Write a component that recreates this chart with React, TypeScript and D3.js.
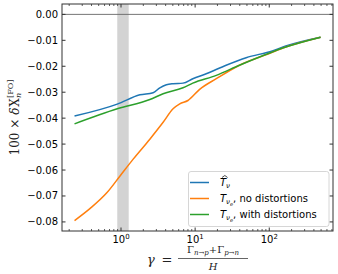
import * as d3 from "d3";

// blue: \hat T_nu
const gammaBlue = [0.236, 0.89, 1.8, 2.71, 3.34, 4.1, 5.04, 6.86, 9.3, 14.1, 26.2, 48.8, 110, 167, 492];
const valBlue = [-0.0392, -0.0346, -0.031, -0.0302, -0.0283, -0.0271, -0.0267, -0.0265, -0.0248, -0.0229, -0.0196, -0.0167, -0.0141, -0.0122, -0.0088];

// orange: T_nu_e, no distortions
const gammaOrange = [0.236, 0.384, 0.643, 0.97, 1.46, 2.45, 3.7, 5.04, 6.2, 8.0, 11.5, 19.3, 39.6, 100, 167, 492];
const valOrange = [-0.0795, -0.0748, -0.0688, -0.0623, -0.0558, -0.0481, -0.0416, -0.0364, -0.0345, -0.0332, -0.0289, -0.0248, -0.0196, -0.0151, -0.0126, -0.0088];

// green: T_nu_e, with distortions
const gammaGreen = [0.236, 0.89, 2.45, 3.7, 6.86, 9.3, 19.3, 39.6, 110, 167, 492];
const valGreen = [-0.0422, -0.0364, -0.0328, -0.0306, -0.0283, -0.0265, -0.0235, -0.0196, -0.0145, -0.0126, -0.0088];

const yTicks = [0, -0.01, -0.02, -0.03, -0.04, -0.05, -0.06, -0.07, -0.08];
const xMajor = [1, 10, 100];
const band = [0.89, 1.27];

const colors = ["#1f77b4", "#ff7f0e", "#2ca02c"];

const App = () => {
  const W = 338;
  const H = 274;
  const left = 62;
  const right = 333;
  const top = 4;
  const bottom = 231;

  const x = d3.scaleLog().domain([0.16, 724]).range([left, right]);
  const y = d3.scaleLinear().domain([0.004, -0.0835]).range([top, bottom]);

  const line = d3
    .line<[number, number]>()
    .x((d) => x(d[0]))
    .y((d) => y(d[1]))
    .curve(d3.curveMonotoneX);

  const series = [
    gammaBlue.map((g, i) => [g, valBlue[i]] as [number, number]),
    gammaOrange.map((g, i) => [g, valOrange[i]] as [number, number]),
    gammaGreen.map((g, i) => [g, valGreen[i]] as [number, number]),
  ];

  const minor: number[] = [];
  for (let e = -1; e <= 2; e++) {
    for (let k = 2; k <= 9; k++) {
      const v = k * Math.pow(10, e);
      if (v > 0.16 && v < 724) minor.push(v);
    }
  }

  const tickFont = { fontFamily: "DejaVu Sans", fontSize: 10, fill: "#000" };
  const serif = { fontFamily: "DejaVu Serif", fill: "#222" };
  const spine = "#333";

  const legendRows = [
    { hat: true, sub2: "", text: "" },
    { hat: false, sub2: "e", text: ",  no distortions" },
    { hat: false, sub2: "e", text: ",  with distortions" },
  ];

  return (
    <svg width={W} height={H} style={{ position: "absolute", left: 0, top: 0, background: "white" }}>
      <rect x={x(band[0])} y={top} width={x(band[1]) - x(band[0])} height={bottom - top} fill="#d3d3d3" />
      <line x1={left} x2={right} y1={y(0)} y2={y(0)} stroke="#666" strokeWidth={0.9} />

      {series.map((s, i) => (
        <path key={i} d={line(s) ?? ""} fill="none" stroke={colors[i]} strokeWidth={1.5} />
      ))}

      {/* frame */}
      <rect x={left} y={top} width={right - left} height={bottom - top} fill="none" stroke={spine} strokeWidth={1} />

      {/* y ticks */}
      {yTicks.map((t) => (
        <g key={t}>
          <line x1={left} x2={left + 3.5} y1={y(t)} y2={y(t)} stroke={spine} />
          <line x1={right} x2={right - 3.5} y1={y(t)} y2={y(t)} stroke={spine} />
          <text x={left - 4} y={y(t)} dy="0.35em" textAnchor="end" {...tickFont}>
            {t === 0 ? "0.00" : "\u2212" + Math.abs(t).toFixed(2)}
          </text>
        </g>
      ))}

      {/* x ticks */}
      {xMajor.map((t) => (
        <g key={t}>
          <line x1={x(t)} x2={x(t)} y1={bottom} y2={bottom - 3.5} stroke={spine} />
          <line x1={x(t)} x2={x(t)} y1={top} y2={top + 3.5} stroke={spine} />
          <text x={x(t)} y={bottom + 12} textAnchor="middle" {...tickFont}>
            10
            <tspan fontSize={7} dy={-4}>
              {Math.round(Math.log10(t))}
            </tspan>
          </text>
        </g>
      ))}
      {minor.map((t) => (
        <g key={"m" + t}>
          <line x1={x(t)} x2={x(t)} y1={bottom} y2={bottom - 2} stroke={spine} strokeWidth={0.8} />
          <line x1={x(t)} x2={x(t)} y1={top} y2={top + 2} stroke={spine} strokeWidth={0.8} />
        </g>
      ))}

      {/* legend */}
      <rect x={188.5} y={171.5} width={140.5} height={55} rx={2.5} fill="white" fillOpacity={0.85} stroke="#ccc" strokeWidth={0.8} />
      {legendRows.map((r, i) => {
        const ly = 182.5 + i * 16;
        return (
          <g key={i}>
            <line x1={190} x2={209} y1={ly} y2={ly} stroke={colors[i]} strokeWidth={1.5} />
            <text x={220} y={ly + 3.5} fontFamily="DejaVu Sans" fontSize={10} fill="#000">
              <tspan fontStyle="italic">T</tspan>
              <tspan fontSize={7} fontStyle="italic" dy={2}>
                ν
              </tspan>
              {r.sub2 && (
                <tspan fontSize={5} fontStyle="italic" dy={1.5}>
                  {r.sub2}
                </tspan>
              )}
              <tspan dy={r.sub2 ? -3.5 : -2}>{r.text}</tspan>
            </text>
            {r.hat && (
              <path d={`M${222},${ly - 5} L${224.8},${ly - 7} L${227.6},${ly - 5}`} fill="none" stroke="#000" strokeWidth={0.7} />
            )}
          </g>
        );
      })}

      {/* y label */}
      <text
        transform={`translate(19,${(top + bottom) / 2}) rotate(-90)`}
        textAnchor="middle"
        fontSize={12}
        {...serif}
      >
        100 × <tspan fontStyle="italic">δ</tspan>
        <tspan dx={1}>X</tspan>
        <tspan fontSize={8} fontStyle="italic" dy={2}>n</tspan>
        <tspan fontSize={8} dx={-5} dy={-8}>[FO]</tspan>
      </text>

      {/* x label */}
      <g {...serif}>
        <text x={151} y={264} fontSize={13} textAnchor="middle" fontStyle="italic">
          γ
        </text>
        <text x={167} y={264} fontSize={13} textAnchor="middle">
          =
        </text>
        <text x={213} y={253} fontSize={10} textAnchor="middle">
          Γ<tspan fontSize={7} fontStyle="italic" dy={2}>n→p</tspan>
          <tspan dy={-2}>+Γ</tspan>
          <tspan fontSize={7} fontStyle="italic" dy={2}>p→n</tspan>
        </text>
        <line x1={178} x2={248} y1={258.5} y2={258.5} stroke="#222" strokeWidth={0.7} />
        <text x={213} y={270} fontSize={10} textAnchor="middle" fontStyle="italic">
          H
        </text>
      </g>
    </svg>
  );
};

export default App;
